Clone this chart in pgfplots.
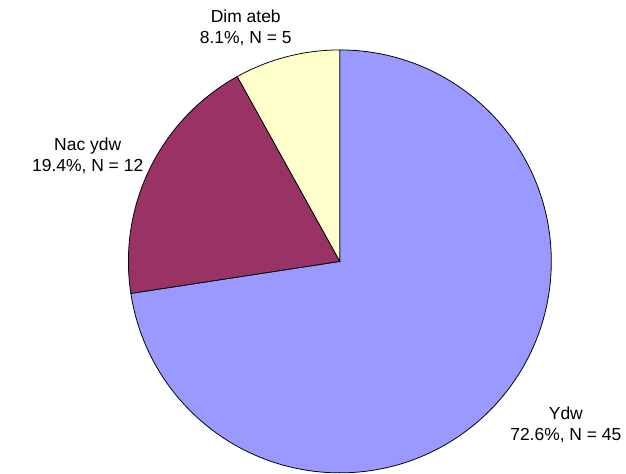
\documentclass[border=0pt]{standalone}
\usepackage{pgfplots}
\usepackage{pgfplotstable}
\pgfplotsset{compat=1.18}
\usepackage{fontspec}
\setmainfont{Liberation Sans}

\definecolor{ydw}{HTML}{9999FF}
\definecolor{nac}{HTML}{993366}
\definecolor{dim}{HTML}{FFFFCC}

\pgfplotstableread{
label value
Ydw 45
Nac 12
Dim 5
}\piedata

\begin{document}
\pgfplotstablegetelem{0}{value}\of\piedata \pgfmathsetmacro\vA{\pgfplotsretval}
\pgfplotstablegetelem{1}{value}\of\piedata \pgfmathsetmacro\vB{\pgfplotsretval}
\pgfplotstablegetelem{2}{value}\of\piedata \pgfmathsetmacro\vC{\pgfplotsretval}
\pgfmathsetmacro\tot{\vA+\vB+\vC}
% slices run clockwise from 12 o'clock
\pgfmathsetmacro\aA{90-360*\vA/\tot}
\pgfmathsetmacro\aB{\aA-360*\vB/\tot}
\pgfmathsetmacro\aC{\aB-360*\vC/\tot}
\begin{tikzpicture}
\begin{axis}[
    x=1bp, y=1bp,
    xmin=0, xmax=626, ymin=0, ymax=488,
    hide axis, clip=false,
]
\coordinate (LL) at (axis cs:0,0);
\coordinate (UR) at (axis cs:626,488);
\def\cx{331}\def\cy{218.5}\def\r{218}
\filldraw[fill=ydw, draw=black, line width=0.8bp]
    (axis cs:\cx,\cy) -- (axis cs:\cx,\cy+\r)
    arc[start angle=90, end angle=\aA, radius=\r bp] -- cycle;
\filldraw[fill=nac, draw=black, line width=0.8bp]
    (axis cs:\cx,\cy) -- ++(\aA:\r bp)
    arc[start angle=\aA, end angle=\aB, radius=\r bp] -- cycle;
\filldraw[fill=dim, draw=black, line width=0.8bp]
    (axis cs:\cx,\cy) -- ++(\aB:\r bp)
    arc[start angle=\aB, end angle=\aC, radius=\r bp] -- cycle;

\begin{scope}[every node/.style={anchor=base, inner sep=0pt, font=\fontsize{18bp}{22bp}\selectfont}]
\node at (axis cs:234,465) {Dim ateb};
\node at (axis cs:234,443) {8.1\%, N = 5};
\node at (axis cs:71,333) {Nac ydw};
\node at (axis cs:71,311) {19.4\%, N = 12};
\node at (axis cs:564,56) {Ydw};
\node at (axis cs:564,34) {72.6\%, N = 45};
\end{scope}
\end{axis}
\pgfresetboundingbox
\path[use as bounding box] (LL) rectangle (UR);
\end{tikzpicture}
\end{document}
